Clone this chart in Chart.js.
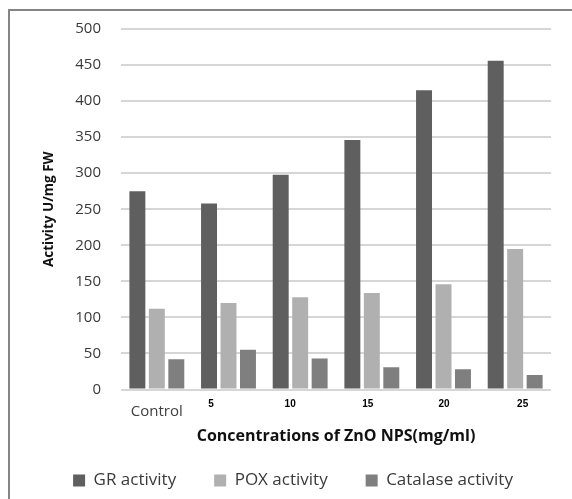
<!DOCTYPE html>
<html>
<head>
<meta charset="utf-8">
<script src="https://cdn.jsdelivr.net/npm/chart.js@4.4.1/dist/chart.umd.min.js"></script>
<style>
    html, body { margin: 0; padding: 0; background: #fff; overflow: hidden; }
    #wrap { position: relative; width: 572px; height: 499px; }
    #frame {
        position: absolute; left: 8px; top: 9px; width: 600px; height: 600px;
        border-left: 2px solid #858585; border-top: 2px solid #858585;
    }
    canvas { position: absolute; left: 0; top: 0; }
</style>
</head>
<body>
<div id="wrap">
    <div id="frame"></div>
    <canvas id="barChart" width="572" height="499"></canvas>
</div>
<script>
// categories (x) and the three series
const categories = ['Control', '5', '10', '15', '20', '25'];
const grActivity = [275, 258, 298, 346, 415, 456];
const poxActivity = [112, 120, 128, 134, 146, 195];
const catalaseActivity = [42, 55, 43, 31, 28, 20];

const yMin = 0, yMax = 500, yStep = 50;

// small shifts of the category labels, as pasted in the original figure
const labelShift = [0, -17.5, -10, -4, 0.5, 7.5];

const colors = ['#5f5f5f', '#b0b0b0', '#7f7f7f'];

// x labels: "Control" in plain grey, numbers small and bold
const xLabelsPlugin = {
    id: 'xLabels',
    afterDraw(chart) {
        const ctx = chart.ctx;
        const x = chart.scales.x;
        const bottom = chart.chartArea.bottom;
        ctx.save();
        ctx.textAlign = 'center';
        ctx.textBaseline = 'middle';
        categories.forEach((lab, i) => {
            const px = x.getPixelForValue(i) + labelShift[i];
            if (i === 0) {
                ctx.font = '15px "Open Sans"';
                ctx.fillStyle = '#404040';
                ctx.fillText(lab, px, bottom + 22);
            } else {
                ctx.font = 'bold 10px "Liberation Sans"';
                ctx.fillStyle = '#000';
                ctx.fillText(lab, px, bottom + 15);
            }
        });
        ctx.restore();
    }
};

new Chart(document.getElementById('barChart').getContext('2d'), {
    type: 'bar',
    data: {
        labels: categories,
        datasets: [
            { label: 'GR activity', data: grActivity, backgroundColor: colors[0] },
            { label: 'POX activity', data: poxActivity, backgroundColor: colors[1] },
            { label: 'Catalase activity', data: catalaseActivity, backgroundColor: colors[2] }
        ]
    },
    options: {
        responsive: false,
        animation: false,
        categoryPercentage: 0.815,
        barPercentage: 0.82,
        layout: { padding: { top: 28, right: 21, bottom: 0, left: 35 } },
        plugins: {
            tooltip: { enabled: false },
            legend: {
                position: 'bottom',
                labels: {
                    boxWidth: 12,
                    boxHeight: 12,
                    padding: 38,
                    color: '#3a3a3a',
                    font: { family: 'Open Sans', size: 17 }
                }
            }
        },
        scales: {
            x: {
                grid: { display: false },
                border: { display: false },
                ticks: { display: false },
                title: {
                    display: true,
                    text: 'Concentrations of ZnO NPS(mg/ml)',
                    color: '#111',
                    font: { family: 'Open Sans', size: 16, weight: 'bold' },
                    padding: { top: 0, bottom: -12 }
                },
                afterFit(scale) { scale.height = 44.5; }
            },
            y: {
                min: yMin,
                max: yMax,
                grid: { color: '#d6d6d6', lineWidth: 2, drawTicks: false },
                border: { display: false },
                ticks: {
                    stepSize: yStep,
                    padding: 20,
                    color: '#3a3a3a',
                    font: { family: 'Open Sans', size: 15 }
                },
                title: {
                    display: true,
                    text: 'Activity U/mg FW',
                    color: '#111',
                    font: { family: 'Open Sans', size: 13.5, weight: 'bold' },
                    padding: { top: 6, bottom: 0 }
                },
                afterFit(scale) { scale.width = 86; }
            }
        }
    },
    plugins: [xLabelsPlugin]
});
</script>
</body>
</html>
